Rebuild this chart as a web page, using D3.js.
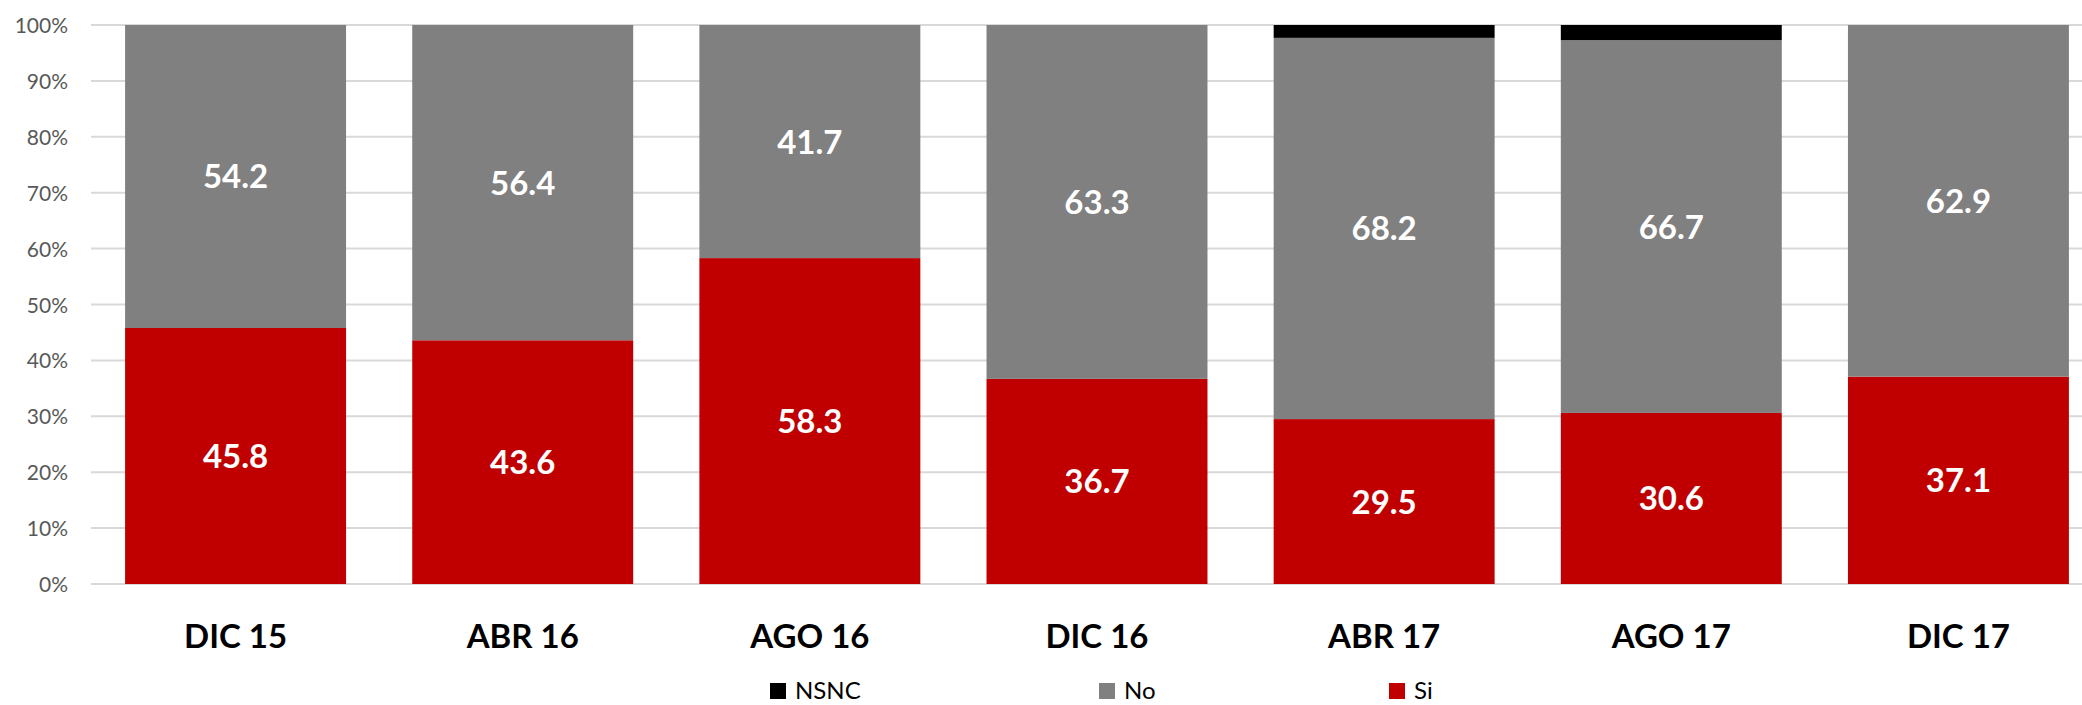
<!DOCTYPE html>
<html>
<head>
<meta charset="utf-8">
<script src="https://cdn.jsdelivr.net/npm/d3@7"></script>
<style>
  html, body { margin: 0; padding: 0; background: #fff; }
  svg { display: block; font-family: Lato, "Open Sans", sans-serif; }
</style>
</head>
<body>
<svg id="chart" width="2082" height="705"></svg>
<script>
const categories = ["DIC 15", "ABR 16", "AGO 16", "DIC 16", "ABR 17", "AGO 17", "DIC 17"];
const siValues   = [45.8, 43.6, 58.3, 36.7, 29.5, 30.6, 37.1];
const noValues   = [54.2, 56.4, 41.7, 63.3, 68.2, 66.7, 62.9];
const nsncValues = [0, 0, 0, 0, 2.3, 2.7, 0];
const seriesNames = ["Si", "No", "NSNC"];
const legendOrder = ["NSNC", "No", "Si"];
const yTicks = [0, 10, 20, 30, 40, 50, 60, 70, 80, 90, 100];

const colors = { Si: "#C00000", No: "#808080", NSNC: "#000000" };

const rows = categories.map((c, i) => ({ cat: c, Si: siValues[i], No: noValues[i], NSNC: nsncValues[i] }));
const stacked = d3.stack().keys(seriesNames)(rows);

const svg = d3.select("#chart");
const plotLeft = 91, plotRight = 2082;

const x = d3.scaleBand().domain(categories).range([92, 2102]).paddingInner(0.2305).paddingOuter(0.11525);
const y = d3.scaleLinear().domain([0, 100]).range([584, 25]);

// gridlines
svg.append("g").selectAll("line").data(yTicks).join("line")
  .attr("x1", plotLeft).attr("x2", plotRight)
  .attr("y1", d => y(d)).attr("y2", d => y(d))
  .attr("stroke", "#d9d9d9").attr("stroke-width", 2);

// y tick labels
svg.append("g").selectAll("text").data(yTicks).join("text")
  .attr("x", 68).attr("y", d => y(d) + 8)
  .attr("text-anchor", "end")
  .attr("font-size", 21).attr("fill", "#595959")
  .text(d => d + "%");

// bars
const layers = svg.append("g").selectAll("g").data(stacked).join("g")
  .attr("fill", d => colors[d.key]);
layers.selectAll("rect").data(d => d).join("rect")
  .attr("x", d => x(d.data.cat))
  .attr("width", x.bandwidth())
  .attr("y", d => y(d[1]))
  .attr("height", d => Math.max(0, y(d[0]) - y(d[1])));

// data labels (Si and No)
stacked.filter(s => s.key !== "NSNC").forEach(s => {
  svg.append("g").selectAll("text").data(s).join("text")
    .attr("x", d => x(d.data.cat) + x.bandwidth() / 2)
    .attr("y", d => (y(d[0]) + y(d[1])) / 2 + 12)
    .attr("text-anchor", "middle")
    .attr("font-size", 33).attr("font-weight", "bold").attr("fill", "#fff")
    .text(d => d.data[s.key].toFixed(1));
});

// x labels
svg.append("g").selectAll("text").data(categories).join("text")
  .attr("x", d => x(d) + x.bandwidth() / 2)
  .attr("y", 648)
  .attr("text-anchor", "middle")
  .attr("font-size", 33).attr("font-weight", "bold").attr("fill", "#000")
  .text(d => d);

// legend
const legendX = { NSNC: 770, No: 1099, Si: 1389 };
const lg = svg.append("g").selectAll("g").data(legendOrder).join("g")
  .attr("transform", d => `translate(${legendX[d]},683)`);
lg.append("rect").attr("width", 16).attr("height", 16).attr("fill", d => colors[d]);
lg.append("text").attr("x", 25).attr("y", 16)
  .attr("font-size", 24).attr("fill", "#000")
  .text(d => d);
</script>
</body>
</html>
